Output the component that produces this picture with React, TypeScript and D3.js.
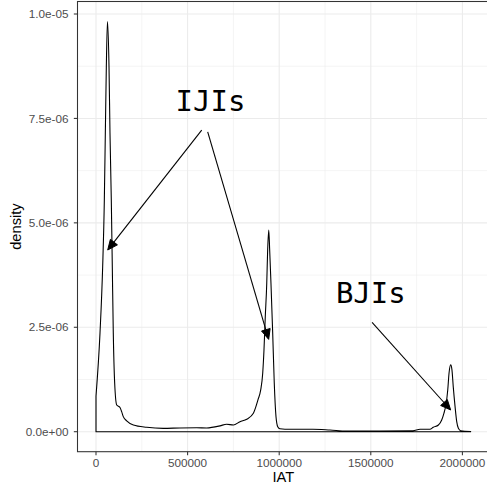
import React from "react";
import * as d3 from "d3";

// density curve (IAT, density)
const iat = [
  0, 21800, 36400, 45500, 50900, 56400, 62500, 71000, 76400, 83500, 89000, 94400,
  102000, 113000, 131000, 140000, 149000, 167500, 204000, 277000, 367000, 458000,
  550000, 604000, 677000, 713000, 750000, 786000, 823000, 859000, 884000, 899000,
  910000, 917000, 924000, 932000, 937000, 943000, 948000, 955000, 964500, 973000,
  982500, 992000, 1004000, 1059000, 1184000, 1277000, 1368000, 1550000, 1730000,
  1769000, 1823000, 1841000, 1869000, 1887000, 1899000, 1910000, 1920000, 1927000,
  1936000, 1943000, 1950000, 1960000, 1969000, 1978000, 1990000, 2045000,
];
const dens = [
  0.85, 2.36, 3.95, 5.55, 7.14, 8.74, 9.82, 8.74, 7.14, 5.55, 3.95, 2.36,
  1.16, 0.64, 0.58, 0.48, 0.36, 0.26, 0.16, 0.105, 0.08, 0.09,
  0.095, 0.09, 0.14, 0.18, 0.16, 0.24, 0.3, 0.44, 0.76, 1.0,
  1.4, 1.96, 2.75, 3.55, 4.35, 4.83, 4.35, 3.56, 2.36, 1.17,
  0.36, 0.12, 0.07, 0.057, 0.057, 0.04, 0.017, 0.017, 0.024,
  0.057, 0.057, 0.105, 0.16, 0.28, 0.44, 0.64, 1.0, 1.4,
  1.6, 1.48, 1.08, 0.6, 0.24, 0.08, 0.024, 0.005,
].map((v) => v * 1e-6);

const xTicks = [0, 500000, 1000000, 1500000, 2000000];
const xTickLabels = ["0", "500000", "1000000", "1500000", "2000000"];
const xMinor = [250000, 750000, 1250000, 1750000];
const yTicks = [0, 2.5e-6, 5e-6, 7.5e-6, 1e-5];
const yTickLabels = ["0.0e+00", "2.5e-06", "5.0e-06", "7.5e-06", "1.0e-05"];
const yMinor = [1.25e-6, 3.75e-6, 6.25e-6, 8.75e-6];

// annotations
const labelText = ["IJIs", "BJIs"];
const labelX = [625000, 1500000];
const labelY = [7.92e-6, 3.33e-6];
const arrowX0 = [577000, 609700, 1507000];
const arrowY0 = [7.22e-6, 7.18e-6, 2.62e-6];
const arrowX1 = [63900, 942600, 1936000];
const arrowY1 = [4.35e-6, 2.21e-6, 0.52e-6];

const W = 487;
const H = 486;
const P = { left: 77.5, top: 1.5, right: 489, bottom: 451.7 };

export default function App() {
  const x = d3.scaleLinear().domain([0, 2000000]).range([96, 462.4]);
  const y = d3.scaleLinear().domain([0, 1e-5]).range([431.7, 14]);

  const pts: [number, number][] = iat.map((v, i) => [x(v), y(dens[i])]);
  const upper = d3.line().curve(d3.curveMonotoneX)(pts) || "";
  const areaPath =
    `M${x(0)},${y(0)}L` + upper.slice(1) + `L${x(iat[iat.length - 1])},${y(0)}Z`;

  const gridMajor = "#EBEBEB";
  const axisCol = "#4D4D4D";
  const headLen = 11;
  const headAng = (24 * Math.PI) / 180;

  return (
    <svg
      width={W}
      height={H}
      style={{ position: "absolute", left: 0, top: 0, background: "#fff" }}
      fontFamily="'Liberation Sans', Arial, sans-serif"
    >
      <defs>
        <clipPath id="panel">
          <rect x={P.left} y={P.top} width={P.right - P.left} height={P.bottom - P.top} />
        </clipPath>
      </defs>
      <rect x={0} y={0} width={W} height={H} fill="#fff" />
      <g clipPath="url(#panel)">
        {xMinor.map((v) => (
          <line key={"xm" + v} x1={x(v)} x2={x(v)} y1={P.top} y2={P.bottom} stroke={gridMajor} strokeWidth={0.55} />
        ))}
        {yMinor.map((v) => (
          <line key={"ym" + v} y1={y(v)} y2={y(v)} x1={P.left} x2={P.right} stroke={gridMajor} strokeWidth={0.55} />
        ))}
        {xTicks.map((v) => (
          <line key={"xg" + v} x1={x(v)} x2={x(v)} y1={P.top} y2={P.bottom} stroke={gridMajor} strokeWidth={1.07} />
        ))}
        {yTicks.map((v) => (
          <line key={"yg" + v} y1={y(v)} y2={y(v)} x1={P.left} x2={P.right} stroke={gridMajor} strokeWidth={1.07} />
        ))}
        <path d={areaPath} fill="none" stroke="#000" strokeWidth={1.1} strokeLinejoin="round" />
        {arrowX0.map((_, i) => {
          const x0 = x(arrowX0[i]);
          const y0 = y(arrowY0[i]);
          const x1 = x(arrowX1[i]);
          const y1 = y(arrowY1[i]);
          const a = Math.atan2(y1 - y0, x1 - x0);
          const ax = x1 - headLen * Math.cos(a - headAng);
          const ay = y1 - headLen * Math.sin(a - headAng);
          const bx = x1 - headLen * Math.cos(a + headAng);
          const by = y1 - headLen * Math.sin(a + headAng);
          return (
            <g key={"ar" + i}>
              <line x1={x0} y1={y0} x2={x1 - 4 * Math.cos(a)} y2={y1 - 4 * Math.sin(a)} stroke="#000" strokeWidth={1.1} />
              <path d={`M${x1},${y1}L${ax},${ay}L${bx},${by}Z`} fill="#000" stroke="#000" strokeWidth={1} strokeLinejoin="miter" />
            </g>
          );
        })}
        {labelText.map((t, i) => (
          <text
            key={t}
            x={x(labelX[i])}
            y={y(labelY[i])}
            dy="0.365em"
            textAnchor="middle"
            fontFamily="'DejaVu Sans Mono', monospace"
            fontSize={29}
            fill="#000"
          >
            {t}
          </text>
        ))}
      </g>
      <rect
        x={P.left}
        y={P.top}
        width={P.right - P.left}
        height={P.bottom - P.top}
        fill="none"
        stroke="#333333"
        strokeWidth={1.07}
      />
      {xTicks.map((v, i) => (
        <g key={"xt" + v}>
          <line x1={x(v)} x2={x(v)} y1={P.bottom} y2={P.bottom + 3.67} stroke="#333333" strokeWidth={1.07} />
          <text x={x(v)} y={467} textAnchor="middle" fontSize={11.73} fill={axisCol}>
            {xTickLabels[i]}
          </text>
        </g>
      ))}
      {yTicks.map((v, i) => (
        <g key={"yt" + v}>
          <line x1={P.left - 3.67} x2={P.left} y1={y(v)} y2={y(v)} stroke="#333333" strokeWidth={1.07} />
          <text x={68.5} y={y(v)} dy="0.36em" textAnchor="end" fontSize={11.73} fill={axisCol}>
            {yTickLabels[i]}
          </text>
        </g>
      ))}
      <text x={(P.left + P.right) / 2} y={482} textAnchor="middle" fontSize={14.67} fill="#000">
        IAT
      </text>
      <text
        transform={`translate(20.5,${(P.top + P.bottom) / 2}) rotate(-90)`}
        textAnchor="middle"
        fontSize={14.67}
        fill="#000"
      >
        density
      </text>
    </svg>
  );
}
